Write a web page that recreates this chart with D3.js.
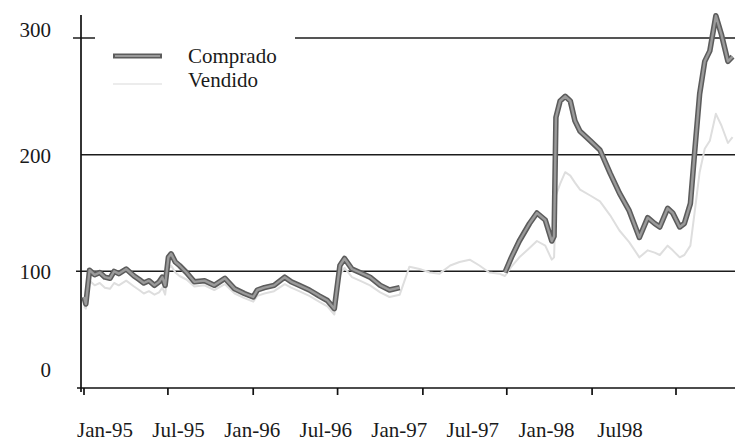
<!DOCTYPE html>
<html>
<head>
<meta charset="utf-8">
<script src="https://cdn.jsdelivr.net/npm/d3@7"></script>
<style>
  body { margin: 0; background: #fff; }
  svg text { font-family: "Liberation Serif", "DejaVu Serif", serif; fill: #1a1a1a; }
</style>
</head>
<body>
<div id="chart"></div>
<script>
// series
const dates = [
  "1995-01-01","1995-01-05","1995-01-13","1995-01-24","1995-02-04","1995-02-15","1995-02-26",
  "1995-03-07","1995-03-17","1995-04-02","1995-04-19","1995-04-30","1995-05-10","1995-05-21",
  "1995-06-02","1995-06-12","1995-06-19","1995-06-25","1995-07-02","1995-07-08","1995-07-17",
  "1995-07-26","1995-08-10","1995-08-27","1995-09-18","1995-10-09","1995-11-01","1995-11-22",
  "1995-12-13","1996-01-01","1996-01-10","1996-01-25","1996-02-15","1996-03-09","1996-03-23",
  "1996-04-09","1996-05-01","1996-05-22","1996-06-09","1996-06-24","1996-07-06","1996-07-16",
  "1996-08-01","1996-08-18","1996-09-09","1996-10-01","1996-10-21","1996-11-12","1996-12-03",
  "1996-12-25","1997-01-16","1997-02-06","1997-03-01","1997-03-21","1997-04-12","1997-05-03",
  "1997-05-24","1997-06-15","1997-06-27","1997-07-11","1997-07-28","1997-08-19","1997-09-04",
  "1997-09-22","1997-10-06","1997-10-11","1997-10-15","1997-10-24","1997-11-04","1997-11-15",
  "1997-11-25","1997-12-06","1997-12-28","1998-01-18","1998-02-09","1998-03-01","1998-03-22",
  "1998-04-13","1998-05-01","1998-05-16","1998-05-27","1998-06-13","1998-06-24","1998-07-09",
  "1998-07-19","1998-08-01","1998-08-10","1998-08-21","1998-09-01","1998-09-12","1998-09-25",
  "1998-10-07","1998-10-21","1998-10-31"
];

const comprado = [
  78, 72, 101, 97, 99, 95, 94,
  100, 98, 102, 96, 93, 90, 92,
  88, 91, 95, 88, 112, 115, 108,
  105, 99, 91, 92, 88, 94, 85,
  81, 78, 84, 86, 88, 95, 91,
  88, 84, 79, 75, 68, 105, 111,
  102, 99, 95, 88, 84, 86, null,
  null, null, null, null, null, null, null,
  null, null, 99, 112, 126, 141, 150,
  144, 126, 130, 232, 246, 250, 246,
  229, 220, 212, 204, 184, 167, 152,
  129, 146, 141, 138, 154, 150, 138,
  141, 158, 201, 252, 280, 289, 319,
  303, 280, 284
];

const vendido = [
  70, 68, 92, 88, 90, 86, 85,
  90, 88, 92, 87, 84, 81, 83,
  80, 82, 86, 80, 102, 105, 99,
  96, 93, 87, 88, 84, 89, 81,
  77, 74, 79, 81, 83, 89, 86,
  83, 79, 74, 70, 63, 97, 103,
  95, 92, 88, 82, 78, 80, 104,
  102, 99, 98, 105, 108, 110, 105,
  99, 98, 96, 104, 112, 120, 126,
  122, 110, 112, 165, 175, 185, 182,
  176, 170, 165, 160, 148, 135, 125,
  112, 118, 116, 114, 122, 118, 112,
  114, 122, 150, 185, 205, 212, 235,
  225, 210, 215
];

const yTicks = [0, 100, 200, 300];
const xTickDates = ["1995-01-01","1995-07-01","1996-01-01","1996-07-01","1997-01-01","1997-07-01","1998-01-01","1998-07-01"];
const xTickLabels = ["Jan-95","Jul-95","Jan-96","Jul-96","Jan-97","Jul-97","Jan-98","Jul98"];
const seriesNames = ["Comprado", "Vendido"];

const W = 735, H = 443;
const parse = d3.timeParse("%Y-%m-%d");

const svg = d3.select("#chart").append("svg")
  .attr("width", W).attr("height", H);

const x = d3.scaleTime()
  .domain([parse("1995-01-01"), parse("1998-07-01")])
  .range([84, 676]);
const y = d3.scaleLinear().domain([0, 300]).range([388, 38]);
// the printed labels sit on their own even spacing, not under the ticks
const xLab = d3.scalePoint().domain(xTickLabels).range([105, 620]);

const rows = dates.map((d, i) => ({ date: parse(d), c: comprado[i], v: vendido[i] }));

// gridlines
const grid = svg.append("g").attr("stroke", "#1c1c1c").attr("stroke-width", 1.5);
grid.append("line").attr("x1", 76).attr("x2", W).attr("y1", y(100)).attr("y2", y(100));
grid.append("line").attr("x1", 81).attr("x2", W).attr("y1", y(200)).attr("y2", y(200));
grid.append("line").attr("x1", 73).attr("x2", 95).attr("y1", y(300)).attr("y2", y(300));
grid.append("line").attr("x1", 295).attr("x2", W).attr("y1", y(300)).attr("y2", y(300));

// axes
svg.append("line").attr("x1", 81).attr("x2", 81).attr("y1", 15).attr("y2", 392)
  .attr("stroke", "#111").attr("stroke-width", 1.7);
svg.append("line").attr("x1", 77).attr("x2", W).attr("y1", y(0)).attr("y2", y(0))
  .attr("stroke", "#111").attr("stroke-width", 1.7);

svg.append("g").selectAll("line").data(xTickDates).join("line")
  .attr("x1", d => x(parse(d))).attr("x2", d => x(parse(d)))
  .attr("y1", y(0)).attr("y2", y(0) + 7)
  .attr("stroke", "#111").attr("stroke-width", 1.7);

svg.append("g").selectAll("text").data(xTickLabels).join("text")
  .attr("x", d => xLab(d)).attr("y", 437)
  .attr("text-anchor", "middle").attr("font-size", 21)
  .text(d => d);

svg.append("g").selectAll("text").data(yTicks).join("text")
  .attr("x", 51)
  .attr("y", d => y(d) + (d === 0 ? -11 : d === 300 ? -1 : 8))
  .attr("text-anchor", "end").attr("font-size", 21)
  .text(d => d);

// lines
const lineV = d3.line().x(d => x(d.date)).y(d => y(d.v));
const lineC = d3.line().defined(d => d.c != null).x(d => x(d.date)).y(d => y(d.c));

svg.append("path").datum(rows).attr("d", lineV)
  .attr("fill", "none").attr("stroke", "#dedede").attr("stroke-width", 2)
  .attr("stroke-linejoin", "round");

svg.append("path").datum(rows).attr("d", lineC)
  .attr("fill", "none").attr("stroke", "#5c5c5c").attr("stroke-width", 5.5)
  .attr("stroke-linejoin", "round");
svg.append("path").datum(rows).attr("d", lineC)
  .attr("fill", "none").attr("stroke", "#9a9a9a").attr("stroke-width", 2.4)
  .attr("stroke-linejoin", "round");

// legend
const lg = svg.append("g");
lg.append("line").attr("x1", 113).attr("x2", 162).attr("y1", 56).attr("y2", 56)
  .attr("stroke", "#5c5c5c").attr("stroke-width", 5);
lg.append("line").attr("x1", 115).attr("x2", 160).attr("y1", 56).attr("y2", 56)
  .attr("stroke", "#9a9a9a").attr("stroke-width", 2);
lg.append("line").attr("x1", 113).attr("x2", 162).attr("y1", 84).attr("y2", 84)
  .attr("stroke", "#ececec").attr("stroke-width", 2);
lg.selectAll("text").data(seriesNames).join("text")
  .attr("x", 188).attr("y", (d, i) => 63 + i * 24)
  .attr("font-size", 21)
  .text(d => d);
</script>
</body>
</html>
